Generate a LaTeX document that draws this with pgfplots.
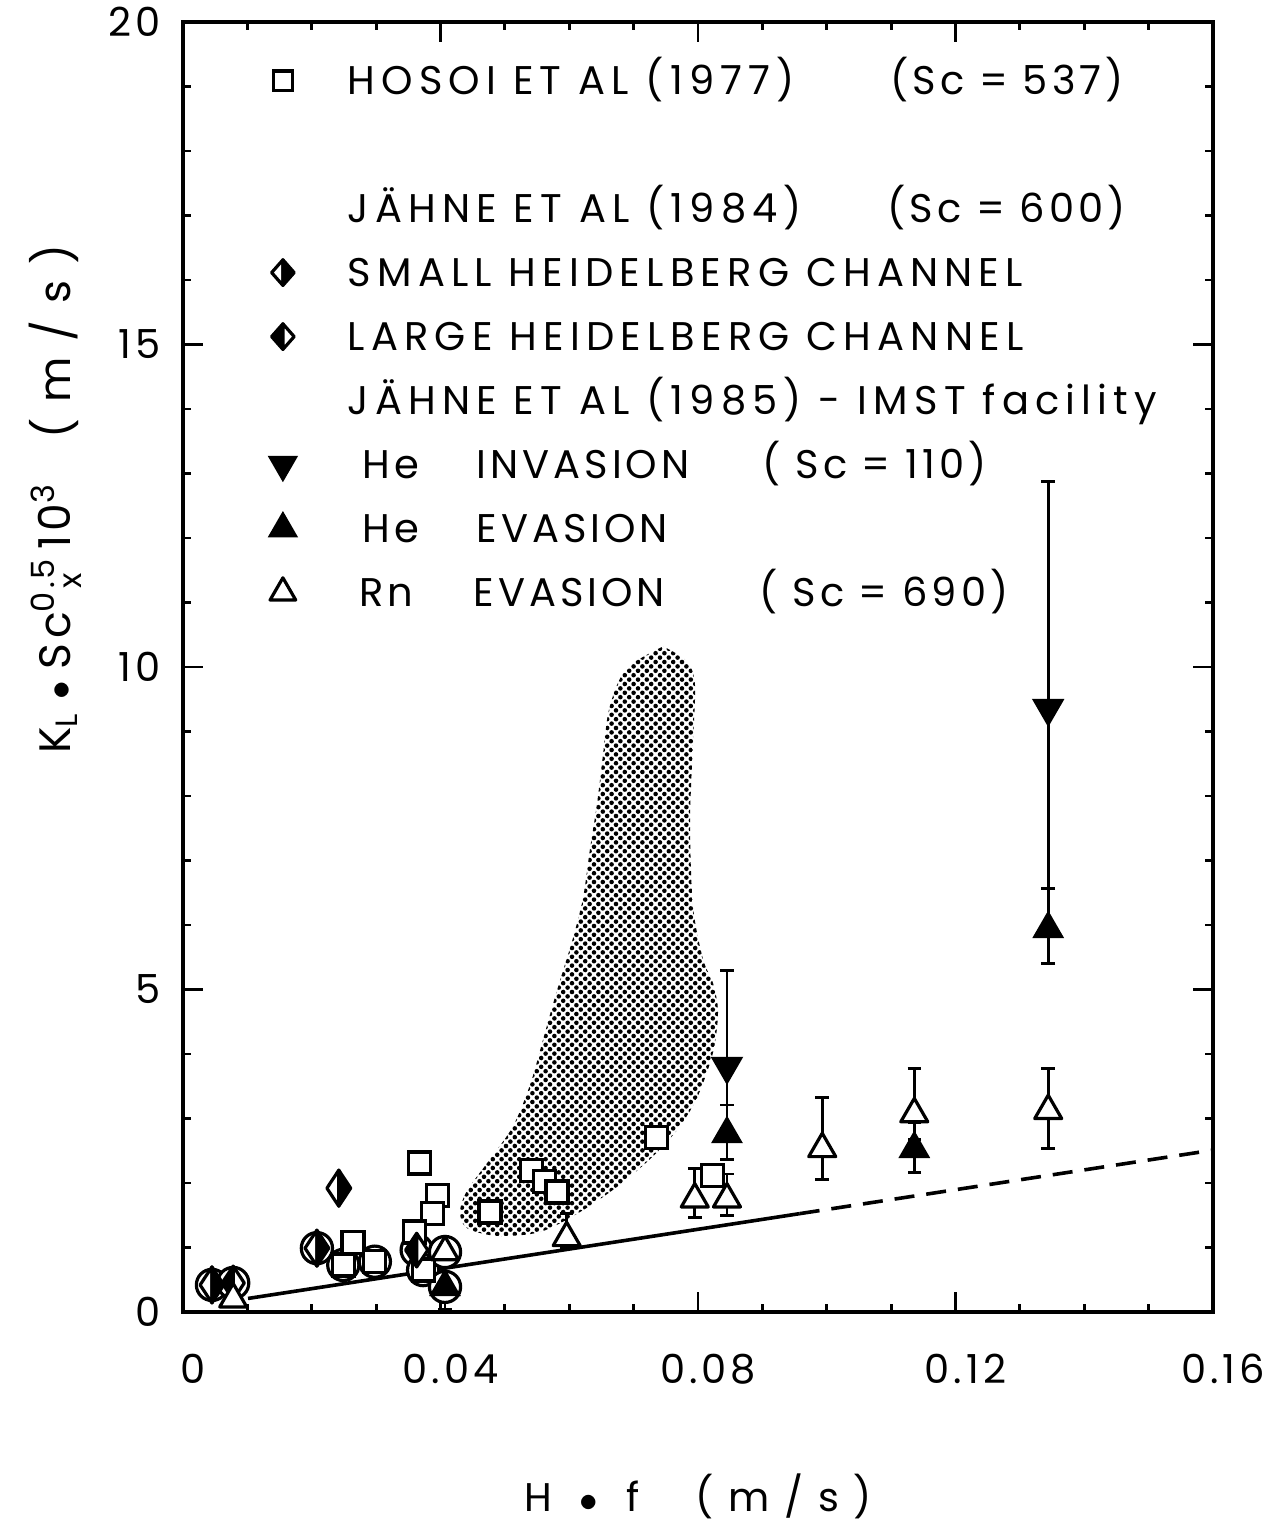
\documentclass[border=0pt]{standalone}
\usepackage{fontspec}
\setmainfont{Poppins}
\newfontfamily\lf{Poppins}[LetterSpace=10]
\newfontfamily\lfw{Poppins}[LetterSpace=15.5]
\usepackage{pgfplots}
\pgfplotsset{compat=1.18}
\usetikzlibrary{patterns}

\pgfdeclarepatternformonly{mydots}{\pgfqpoint{-1pt}{-1pt}}{\pgfqpoint{3.2pt}{3.2pt}}{\pgfqpoint{2.2pt}{2.2pt}}{%
  \pgfpathcircle{\pgfqpoint{0pt}{0pt}}{0.57pt}%
  \pgfpathcircle{\pgfqpoint{1.1pt}{1.1pt}}{0.57pt}%
  \pgfusepath{fill}}

% half-filled diamonds: #1 name, #2 width factor, #3 left fill, #4 right fill
\newcommand\halfdiamond[4]{%
\pgfdeclareplotmark{#1}{%
  \pgfsetfillcolor{#3}%
  \pgfpathmoveto{\pgfqpoint{0pt}{\pgfplotmarksize}}%
  \pgfpathlineto{\pgfqpoint{-#2\pgfplotmarksize}{0pt}}%
  \pgfpathlineto{\pgfqpoint{0pt}{-\pgfplotmarksize}}%
  \pgfpathclose\pgfusepathqfillstroke
  \pgfsetfillcolor{#4}%
  \pgfpathmoveto{\pgfqpoint{0pt}{\pgfplotmarksize}}%
  \pgfpathlineto{\pgfqpoint{#2\pgfplotmarksize}{0pt}}%
  \pgfpathlineto{\pgfqpoint{0pt}{-\pgfplotmarksize}}%
  \pgfpathclose\pgfusepathqfillstroke}}
\halfdiamond{hdR}{0.66}{white}{black}
\halfdiamond{hdL}{0.66}{black}{white}
\halfdiamond{hdRl}{0.88}{white}{black}
\halfdiamond{hdLl}{0.88}{black}{white}

\begin{document}
\begin{tikzpicture}
\begin{axis}[
  scale only axis, width=257.5pt, height=322.5pt,
  xmin=0, xmax=0.16, ymin=0, ymax=20,
  xtick={0,0.04,0.08,0.12,0.16}, xticklabels={0,0.04,0.08,0.12,0.16},
  ytick={0,5,10,15,20}, yticklabels={0,5,10,15,20},
  scaled x ticks=false, scaled y ticks=false,
  minor x tick num=3, minor y tick num=4,
  tick align=inside, major tick length=5pt, minor tick length=2pt,
  axis line style={line width=0.8pt},
  every tick/.style={line width=0.7pt, black},
  tick label style={font=\fontsize{10}{12}\selectfont\lf},
  xticklabel style={yshift=-7pt, xshift=2.5pt},
  yticklabel style={xshift=-2pt},
  xlabel={H\hspace{7pt}{\small$\bullet$}\hspace{7pt}f\hspace{14pt}( m / s )},
  xlabel style={font=\fontsize{10}{12}\selectfont\lf, at={(axis description cs:0.5,-0.143)}, anchor=center},
  ylabel={K\textsubscript{L}\;{\small$\bullet$}\;Sc$^{\mbox{\fontsize{8}{9}\selectfont\lf 0.5}}_{\mbox{\fontsize{8}{9}\selectfont\lf\hspace{6pt}x}}$\,10$^{\mbox{\fontsize{8}{9}\selectfont\lf 3}}$\hspace{1em}( m / s )},
  ylabel style={font=\fontsize{11}{13}\selectfont\lf, at={(axis description cs:-0.124,0.63)}, anchor=center, rotate=0},
  legend style={at={(axis cs:0.0103,19.60)}, anchor=north west, draw=none, fill=none,
    inner sep=0pt, row sep=0pt, column sep=0pt,
    font=\fontsize{10}{12}\selectfont\lf,
    nodes={inner sep=0pt, text height=11.5pt, text depth=4.5pt}},
  legend cell align=left,
  legend image code/.code={\path (-8pt,0pt) (16pt,0pt); \draw[#1] plot coordinates {(0pt,0pt)};},
]
% shaded region (Jahne 1984 range)
\addplot[draw=none, pattern=mydots, pattern color=black, smooth, tension=0.5, forget plot] coordinates {
(0.07457,10.32) (0.06944,10.03) (0.06742,9.72) (0.06602,9.27) (0.06524,8.64)
(0.06431,7.88) (0.06322,7.18) (0.06214,6.42) (0.06058,5.80) (0.05903,5.29)
(0.05748,4.78) (0.05592,4.22) (0.05390,3.52) (0.05126,2.88) (0.04769,2.37)
(0.04412,1.88) (0.04303,1.55) (0.04412,1.30) (0.04878,1.18) (0.05546,1.24)
(0.06167,1.55) (0.06742,1.94) (0.07254,2.37) (0.07674,2.82) (0.07985,3.32)
(0.08233,4.02) (0.08311,4.65) (0.08233,5.10) (0.08078,5.47) (0.07922,6.29)
(0.07876,7.57) (0.07922,8.84) (0.07953,9.72) (0.07829,10.09) (0.07457,10.32)
} --cycle;
% line
\addplot[line width=0.9pt, forget plot] coordinates {(0.0101,0.21) (0.0958,1.525)};
\addplot[line width=0.9pt, dash pattern=on 5pt off 3pt, forget plot] coordinates {(0.0958,1.525) (0.16,2.51)};
% circles
\addplot[only marks, mark=*, mark size=3.9pt, mark options={fill=white, line width=0.8pt}, forget plot] coordinates {
(0.0045,0.42) (0.0078,0.45) (0.0208,0.99) (0.0249,0.73) (0.0298,0.78)
(0.0363,0.96) (0.0373,0.65) (0.0407,0.93) (0.0407,0.39)};
% error bars
\addplot[draw=none, mark=none, forget plot, error bars/.cd, y dir=both, y explicit,
  error bar style={line width=0.7pt}, error mark options={rotate=90, mark size=1.7pt, line width=0.7pt}]
coordinates {
(0.0596,1.15) += (0,0.38) -= (0,0.15)
(0.0795,1.75) += (0,0.48) -= (0,0.29)
(0.0845,1.75) += (0,0.39) -= (0,0.26)
(0.0993,2.53) += (0,0.79) -= (0,0.48)
(0.1136,3.07) += (0,0.71) -= (0,0.40)
(0.1344,3.12) += (0,0.66) -= (0,0.59)
(0.0845,2.76) += (0,0.45) -= (0,0.39)
(0.1136,2.53) += (0,0.40) -= (0,0.37)
(0.1344,5.94) += (0,0.63) -= (0,0.54)
(0.0407,0.39) += (0,0.10) -= (0,0.35)
(0.0845,3.81) += (0,1.48) -= (0,0.60)
(0.1344,9.36) += (0,3.51) -= (0,2.79)
};
% Hosoi squares
\addplot[only marks, mark=square*, mark size=2.75pt, mark options={fill=white, line width=0.8pt}, forget plot] coordinates {
(0.0367,2.31) (0.0395,1.81) (0.0387,1.53) (0.0360,1.24) (0.0264,1.08)
(0.0249,0.73) (0.0298,0.78) (0.0373,0.65) (0.0477,1.55) (0.0541,2.19)
(0.0562,2.02) (0.0581,1.86) (0.0736,2.70) (0.0822,2.12)};
% small Heidelberg
\addplot[only marks, mark=hdR, mark size=4.5pt, mark options={line width=0.8pt, line join=round}, forget plot] coordinates {
(0.0045,0.42) (0.0208,0.99) (0.0242,1.92)};
% large Heidelberg
\addplot[only marks, mark=hdL, mark size=4.2pt, mark options={line width=0.8pt, line join=round}, forget plot] coordinates {
(0.0078,0.45) (0.0363,0.96)};
% He invasion
\addplot[only marks, mark=triangle*, mark size=4.0pt, mark options={rotate=180, fill=black, line width=0.7pt}, forget plot] coordinates {
(0.0845,3.81) (0.1344,9.36)};
% He evasion
\addplot[only marks, mark=triangle*, mark size=3.9pt, mark options={fill=black, line width=0.7pt}, forget plot] coordinates {
(0.0845,2.76) (0.1136,2.53) (0.1344,5.94) (0.0407,0.39)};
% Rn evasion
\addplot[only marks, mark=triangle*, mark size=3.9pt, mark options={fill=white, line width=0.8pt, line join=round}, forget plot] coordinates {
(0.0596,1.15) (0.0795,1.75) (0.0845,1.75) (0.0993,2.53) (0.1136,3.07) (0.1344,3.12) (0.0407,0.93) (0.0078,0.20)};

% legend
\addlegendimage{mark=square*, mark size=2.4pt, mark options={fill=white, line width=0.8pt}}
\addlegendentry{\makebox[135.75pt][l]{\lfw HOSOI ET AL (1977)}(Sc = 537)}
\addlegendimage{empty legend}
\addlegendentry{}
\addlegendimage{empty legend}
\addlegendentry{\makebox[135pt][l]{\lfw JÄHNE ET AL (1984)}(Sc = 600)}
\addlegendimage{mark=hdRl, mark size=3.2pt, mark options={line width=0.8pt, line join=round}}
\addlegendentry{{\lfw SMALL HEIDELBERG CHANNEL}}
\addlegendimage{mark=hdLl, mark size=3.2pt, mark options={line width=0.8pt, line join=round}}
\addlegendentry{{\lfw LARGE HEIDELBERG CHANNEL}}
\addlegendimage{empty legend}
\addlegendentry{{\lfw JÄHNE ET AL (1985) - IMST facility}}
\addlegendimage{mark=triangle*, mark size=3.7pt, mark options={rotate=180, fill=black, line width=0.7pt}}
\addlegendentry{\hspace{3.75pt}\makebox[28.5pt][l]{He}\makebox[71.5pt][l]{INVASION}( Sc = 110)}
\addlegendimage{mark=triangle*, mark size=3.7pt, mark options={fill=black, line width=0.7pt}}
\addlegendentry{\hspace{3.75pt}\makebox[28.5pt][l]{He}EVASION}
\addlegendimage{mark=triangle*, mark size=3.7pt, mark options={fill=white, line width=0.8pt, line join=round}}
\addlegendentry{\hspace{3pt}\makebox[28.5pt][l]{Rn}\makebox[71.5pt][l]{EVASION}( Sc = 690)}
\end{axis}
\pgfresetboundingbox
\path[use as bounding box] (-45.75pt,-52pt) rectangle (270.75pt,328pt);
\end{tikzpicture}
\end{document}
